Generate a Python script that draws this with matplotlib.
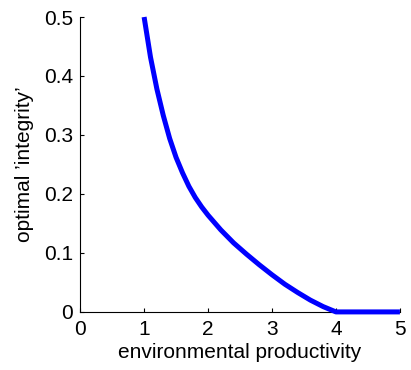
import matplotlib
matplotlib.use('Agg')
import matplotlib.pyplot as plt

# values
productivity = [1.0, 1.1, 1.2, 1.3, 1.4, 1.5, 1.6, 1.7, 1.8, 1.9, 2.0, 2.2, 2.4, 2.6, 2.8,
                3.0, 3.2, 3.4, 3.6, 3.8, 4.0, 5.0]
integrity = [0.500, 0.432, 0.378, 0.333, 0.294, 0.262, 0.236, 0.213, 0.194, 0.178, 0.164, 0.139,
             0.117, 0.098, 0.080, 0.063, 0.047, 0.033, 0.020, 0.009, 0.0, 0.0]

x_ticks = [0, 1, 2, 3, 4, 5]
y_ticks = [0, 0.1, 0.2, 0.3, 0.4, 0.5]
y_ticklabels = ['0', '0.1', '0.2', '0.3', '0.4', '0.5']

plt.rcParams['font.family'] = ['Liberation Sans', 'DejaVu Sans']
plt.rcParams['font.size'] = 15

fig = plt.figure(figsize=(4.11, 3.70), dpi=100)
ax = fig.add_axes([0.195, 0.157, 0.778, 0.797])

ax.plot(productivity, integrity, color='#0000ff', linewidth=3.6, clip_on=False, zorder=3,
        solid_capstyle='butt', solid_joinstyle='round')

ax.set_xlim(0, 5)
ax.set_ylim(0, 0.5)
ax.set_xticks(x_ticks)
ax.set_yticks(y_ticks)
ax.set_yticklabels(y_ticklabels)

for side in ['top', 'right']:
    ax.spines[side].set_visible(False)
for side in ['left', 'bottom']:
    ax.spines[side].set_linewidth(0.8)

ax.tick_params(direction='in', length=3, width=0.8, labelsize=15, pad=5)
ax.tick_params(axis='x', pad=6)
ax.set_xlabel('environmental productivity', fontsize=15, labelpad=3)
ax.set_ylabel('optimal \u2019integrity\u2019', fontsize=15, labelpad=7)

fig.savefig('out.png', dpi=100)
plt.close(fig)
